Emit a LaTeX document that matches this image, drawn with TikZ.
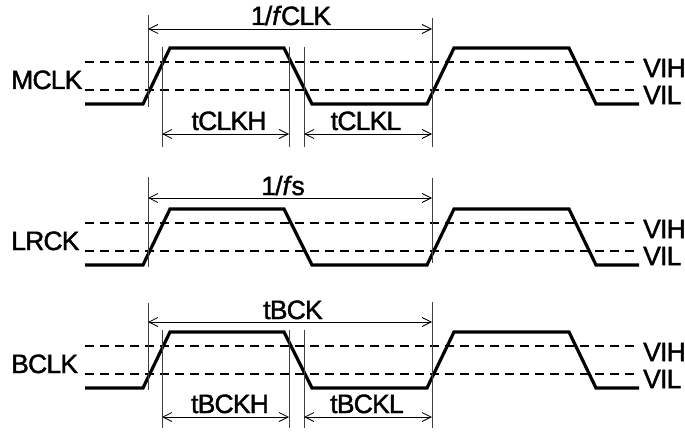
\documentclass[tikz,border=0pt]{standalone}
\usepackage{fontspec}
\setmainfont[FakeBold=1.5, LetterSpace=-3]{Liberation Sans}
\usetikzlibrary{arrows.meta}

\tikzset{
  wave/.style={line width=3.2pt, line join=miter},
  thres/.style={line width=1.6pt, dash pattern=on 9pt off 6pt},
  extline/.style={line width=0.8pt, draw=black!75},
  dimline/.style={line width=0.8pt, {Straight Barb[length=9pt,width=9pt]}-{Straight Barb[length=9pt,width=9pt]}},
  lbl/.style={font=\fontsize{26.5}{30}\selectfont, inner sep=0pt},
}

\begin{document}
\begin{tikzpicture}[x=1pt,y=-1pt]
\useasboundingbox (0,0) rectangle (685,433);
% the three signals: name / high level
\foreach \sig/\hy in {MCLK/48, LRCK/209, BCLK/332}{
  \pgfmathsetmacro{\lo}{\hy+56}
  \pgfmathsetmacro{\vh}{\hy+14}
  \pgfmathsetmacro{\vl}{\hy+42}
  \draw[thres] (85,\vh) -- (636,\vh);
  \draw[thres] (85,\vl) -- (636,\vl);
  \draw[wave] (85,\lo) -- (143,\lo) -- (170,\hy) -- (284,\hy) -- (312,\lo)
     -- (427,\lo) -- (454,\hy) -- (569,\hy) -- (596,\lo) -- (639,\lo);
  \node[lbl, anchor=base west] (\sig) at (11,\vl-1) {\sig};
  \node[lbl, anchor=west] (vih-\sig) at (643,\vh+6) {VIH};
  \node[lbl, anchor=west] (vil-\sig) at (643,\vl+5) {VIL};
}

% MCLK timing
\coordinate (m0t) at (148,15);  \coordinate (m0b) at (148,107);
\coordinate (m1t) at (432,18);  \coordinate (m1b) at (432,147);
\coordinate (mht) at (162,47);  \coordinate (mhb) at (162,147);
\coordinate (mft) at (289,47);  \coordinate (mfb) at (289,147);
\coordinate (mlt) at (304,47);  \coordinate (mlb) at (304,147);
\foreach \c in {m0,m1,mh,mf,ml}
  \draw[extline] (\c t) -- (\c b);
\coordinate (ma) at (148,29);  \coordinate (mb) at (432,29);
\draw[dimline] (ma) -- (mb);
\node[lbl, anchor=base] (fclk) at (291,25) {1/\textit{f}CLK};
\coordinate (mha) at (162,134);  \coordinate (mhz) at (289,134);
\draw[dimline] (mha) -- (mhz);
\node[lbl, anchor=base] (tclkh) at (229,130) {tCLKH};
\coordinate (mla) at (304,134);  \coordinate (mlz) at (432,134);
\draw[dimline] (mla) -- (mlz);
\node[lbl, anchor=base] (tclkl) at (366,130) {tCLKL};

% LRCK timing
\coordinate (l0t) at (148,177);  \coordinate (l0b) at (148,267);
\coordinate (l1t) at (432,178);  \coordinate (l1b) at (432,263);
\foreach \c in {l0,l1}
  \draw[extline] (\c t) -- (\c b);
\coordinate (la) at (148,198);  \coordinate (lb) at (432,198);
\draw[dimline] (la) -- (lb);
\node[lbl, anchor=base] (fs) at (283,195) {1/\textit{f}s};

% BCLK timing
\coordinate (b0t) at (148,303);  \coordinate (b0b) at (148,390);
\coordinate (b1t) at (432,302);  \coordinate (b1b) at (432,428);
\coordinate (bht) at (162,330);  \coordinate (bhb) at (162,428);
\coordinate (bft) at (289,330);  \coordinate (bfb) at (289,428);
\coordinate (blt) at (304,330);  \coordinate (blb) at (304,428);
\foreach \c in {b0,b1,bh,bf,bl}
  \draw[extline] (\c t) -- (\c b);
\coordinate (ba) at (148,322);  \coordinate (bb) at (432,322);
\draw[dimline] (ba) -- (bb);
\node[lbl, anchor=base] (tbck) at (293,319) {tBCK};
\coordinate (bha) at (162,417);  \coordinate (bhz) at (289,417);
\draw[dimline] (bha) -- (bhz);
\node[lbl, anchor=base] (tbckh) at (230,413) {tBCKH};
\coordinate (bla) at (304,417);  \coordinate (blz) at (432,417);
\draw[dimline] (bla) -- (blz);
\node[lbl, anchor=base] (tbckl) at (367,413) {tBCKL};
\end{tikzpicture}
\end{document}
